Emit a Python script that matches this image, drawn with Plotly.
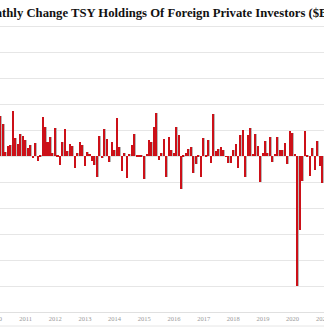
import pandas as pd
import plotly.graph_objects as go

# Monthly change, $B (Mar 2010 .. Jan 2021)
start_month = "2010-03-01"
values = [78, 62, 9, 20, 22, 88, 35, 24, 43, 39,
          32, 17, 22, -4, 26, -9, 1, 76, 56, 28,
          37, 7, 54, 1, -16, 28, 53, 11, 24, 20,
          -22, 6, 28, 22, -18, 9, 5, -8, -17, -39,
          40, -2, 52, 33, -10, 28, 12, 74, 18, -28,
          7, -41, 5, 22, 44, 3, 3, 1, -43, 4,
          32, 27, 57, 83, -7, 6,
          33, -39, 37, 12, 6, 57, 42, -63, 3, 6,
          15, 19, -32, -15, 3, -40, 35, 1, 31, -13,
          81, 11, 15, 19, 13, -1, -12, -12, 13, 23,
          -23, 42, 50, -40, 41, 54, 4, 44, 20, -50,
          6, 30, 6, 38, -10, 4, 38, 13, 13, 25,
          -15, 49, 46, 5, -250, -141, -47, 49, 1, -37,
          16, -26, 30, -18, -51]
years = list(range(2010, 2022))
title_text = "Monthly Change TSY Holdings Of Foreign Private Investors ($B)"

dates = pd.date_range(start_month, periods=len(values), freq="MS")
month_ms = 30.44 * 86400000
day = pd.Timedelta(days=1)

x0 = pd.Timestamp(start_month) - 0.283 * 30.44 * day
x1 = dates[-1] + 0.68 * 30.44 * day

W, H = 324, 327
mb = 15

fig = go.Figure()
fig.add_trace(go.Bar(x=dates, y=values, marker_color="#b9b9b9",
                     width=0.62 * month_ms, offset=-0.31 * month_ms + 0.24 * month_ms,
                     marker_line_width=0, hoverinfo="skip"))
fig.add_trace(go.Bar(x=dates, y=values, marker_color="#cc1018",
                     width=0.62 * month_ms, offset=-0.31 * month_ms,
                     marker_line_width=0))

tickvals = [pd.Timestamp(f"{y}-01-01") for y in years]
span = (x1 - x0)
annos = []
for t in tickvals:
    frac = (t - x0) / span
    if frac < 0.01 or frac > 0.99:
        annos.append(dict(x=frac, y=-(318 - (H - mb)) / (H - mb) * 1, xref="paper", yref="paper",
                          text=str(t.year), showarrow=False, xanchor="center", yanchor="middle",
                          font=dict(family="Liberation Serif", size=6.5, color="#999999")))

fig.update_layout(
    width=W, height=H,
    margin=dict(l=0, r=0, t=0, b=mb),
    paper_bgcolor="white", plot_bgcolor="white",
    showlegend=False, barmode="overlay", bargap=0,
    title=dict(text=title_text, x=0.476, xanchor="center", y=1 - 12.5 / H, yanchor="middle",
               yref="container",
               font=dict(family="Liberation Serif", size=12.7, color="#111111", weight="bold")),
    xaxis=dict(type="date", range=[x0, x1], tickvals=tickvals, ticktext=[str(y) for y in years],
               showgrid=False, showline=True, linecolor="#e0e0e0", linewidth=1,
               ticks="", tickfont=dict(family="Liberation Serif", size=6.5, color="#999999")),
    yaxis=dict(range=[-300, 301.5], dtick=50, showgrid=True, gridcolor="#e6e6e6", gridwidth=1,
               zeroline=False, showticklabels=False, ticks=""),
    annotations=annos,
    shapes=[dict(type="line", xref="paper", yref="paper", x0=0, x1=1,
                 y0=-(326 - (H - mb)) / (H - mb), y1=-(326 - (H - mb)) / (H - mb),
                 line=dict(color="#e6e6e6", width=1))],
)

fig.write_html("out.html")
